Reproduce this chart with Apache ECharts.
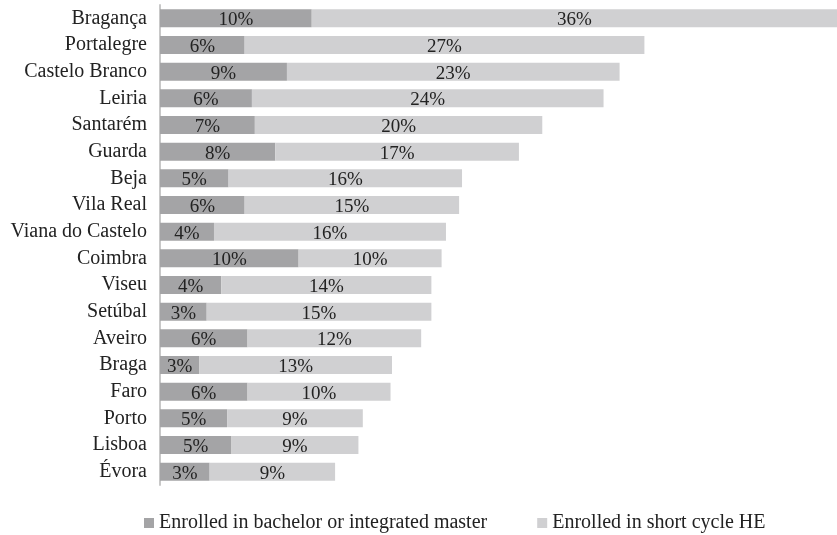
<!DOCTYPE html>
<html>
<head>
<meta charset="utf-8">
<style>
  html, body { margin: 0; padding: 0; background: #fff; }
  #main { width: 837px; height: 535px; }
</style>
<script src="https://cdn.jsdelivr.net/npm/echarts@6/dist/echarts.min.js"></script>
</head>
<body>
<div id="main"></div>
<script>
// districts, top to bottom
var districts = ['Bragança', 'Portalegre', 'Castelo Branco', 'Leiria', 'Santarém', 'Guarda',
  'Beja', 'Vila Real', 'Viana do Castelo', 'Coimbra', 'Viseu', 'Setúbal', 'Aveiro',
  'Braga', 'Faro', 'Porto', 'Lisboa', 'Évora'];
// shares in % (labels are rounded)
var bachelor = [10.4, 5.8, 8.7, 6.3, 6.5, 7.9, 4.7, 5.8, 3.7, 9.5, 4.2, 3.2, 6.0, 2.7, 6.0, 4.6, 4.9, 3.4];
var shortCycle = [36.0, 27.4, 22.8, 24.1, 19.7, 16.7, 16.0, 14.7, 15.9, 9.8, 14.4, 15.4, 11.9, 13.2, 9.8, 9.3, 8.7, 8.6];
var seriesNames = ['Enrolled in bachelor or integrated master', 'Enrolled in short cycle HE'];

var font = 'Liberation Serif, Times New Roman, serif';
var myChart = echarts.init(document.getElementById('main'));

var barLabel = {
  show: true,
  position: 'inside',
  offset: [0, 2],
  fontFamily: font,
  fontSize: 19,
  color: '#222',
  formatter: function (p) { return Math.round(p.value) + '%'; }
};

myChart.setOption({
  animation: false,
  textStyle: { fontFamily: font },
  grid: { left: 160, right: 0, top: 5, height: 480 },
  legend: {
    left: 144,
    top: 513,
    padding: 0,
    icon: 'rect',
    itemWidth: 10,
    itemHeight: 10,
    itemGap: 50,
    textStyle: { fontFamily: font, fontSize: 20, color: '#222' },
    data: seriesNames
  },
  xAxis: {
    type: 'value',
    min: 0,
    max: 46.4,
    show: false
  },
  yAxis: {
    type: 'category',
    inverse: true,
    offset: 1,
    data: districts,
    axisLine: { show: true, lineStyle: { color: '#c8c8c8', width: 2 } },
    axisTick: { show: false },
    axisLabel: { fontFamily: font, fontSize: 20, color: '#222', margin: 12, padding: [3, 0, 0, 0] }
  },
  series: [{
    name: seriesNames[0],
    type: 'bar',
    stack: 'total',
    barWidth: 18,
    itemStyle: { color: '#a4a4a6' },
    label: barLabel,
    data: bachelor
  }, {
    name: seriesNames[1],
    type: 'bar',
    stack: 'total',
    barWidth: 18,
    itemStyle: { color: '#d0d0d2' },
    label: barLabel,
    data: shortCycle
  }]
});
</script>
</body>
</html>
